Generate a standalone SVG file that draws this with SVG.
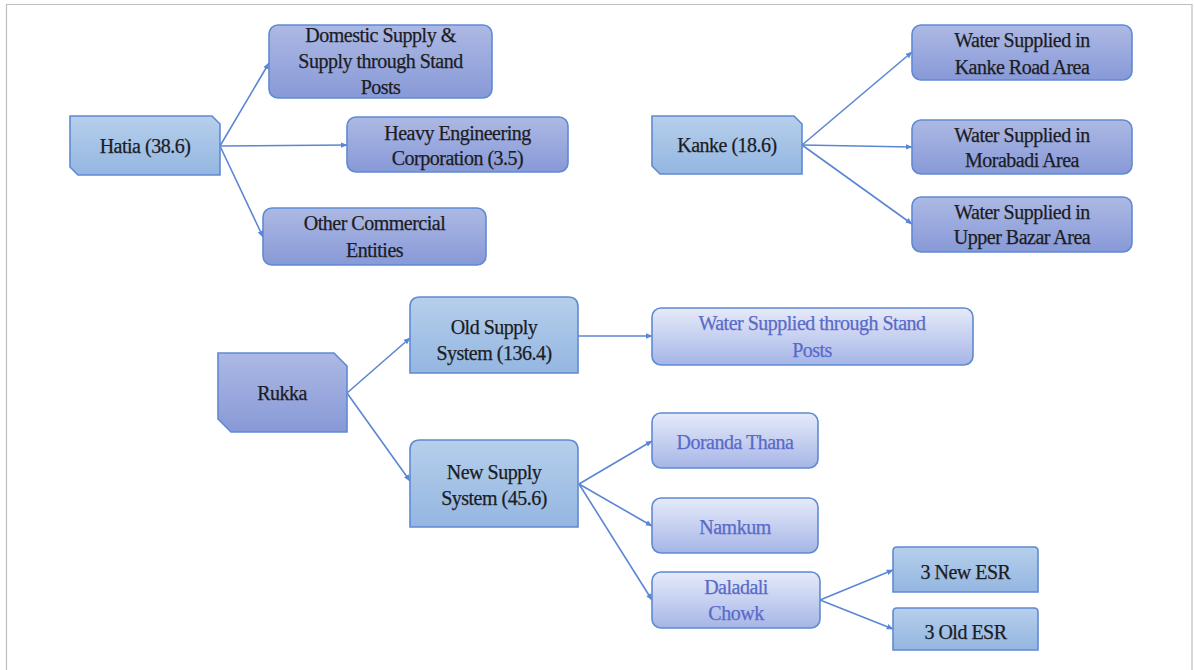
<svg xmlns="http://www.w3.org/2000/svg" width="1195" height="670" viewBox="0 0 1195 670" font-family="Liberation Serif, Tinos, DejaVu Serif, serif">
  <defs>
    <linearGradient id="gLav" x1="0" y1="0" x2="0" y2="1">
      <stop offset="0" stop-color="#adb9e4"/>
      <stop offset="1" stop-color="#8799d7"/>
    </linearGradient>
    <linearGradient id="gBlue" x1="0" y1="0" x2="0" y2="1">
      <stop offset="0" stop-color="#b6cfeb"/>
      <stop offset="1" stop-color="#94b6e1"/>
    </linearGradient>
    <linearGradient id="gPale" x1="0" y1="0" x2="0" y2="1">
      <stop offset="0" stop-color="#e6ebf9"/>
      <stop offset="1" stop-color="#a6b5e7"/>
    </linearGradient>
    <marker id="arrow" viewBox="0 0 10 10" refX="9" refY="5" markerWidth="7" markerHeight="7" markerUnits="userSpaceOnUse" orient="auto">
      <path d="M0,1 L10,5 L0,9 z" fill="#5b86d3"/>
    </marker>
    <style>
      .box { stroke: #5f8ad2; stroke-width: 1.6; }
      .lav { fill: url(#gLav); }
      .blue { fill: url(#gBlue); }
      .pale { fill: url(#gPale); }
      .t { font-size: 20px; fill: #1c1c24; text-anchor: middle; letter-spacing: -0.5px; stroke: #1c1c24; stroke-width: 0.25px; }
      .tb { fill: #5a6ac8; stroke: #5a6ac8; }
      .link { stroke: #5b86d3; stroke-width: 1.6; fill: none; marker-end: url(#arrow); }
    </style>
  </defs>

  <rect width="1195" height="670" fill="#ffffff"/>
  <!-- outer frame -->
  <path d="M6.5,670 V4.5 H1192 V670" fill="none" stroke="#bdbdbd" stroke-width="1.2"/>

  <!-- connectors -->
  <g id="connectors">
    <line class="link" x1="220" y1="146" x2="269" y2="63"/>
    <line class="link" x1="220" y1="146" x2="347" y2="145"/>
    <line class="link" x1="220" y1="146" x2="263" y2="237"/>
    <line class="link" x1="802" y1="145" x2="912" y2="52"/>
    <line class="link" x1="802" y1="145" x2="912" y2="147"/>
    <line class="link" x1="802" y1="145" x2="912" y2="224"/>
    <line class="link" x1="347" y1="393" x2="410" y2="338"/>
    <line class="link" x1="347" y1="393" x2="410" y2="481"/>
    <line class="link" x1="578" y1="336" x2="652" y2="336"/>
    <line class="link" x1="579" y1="484" x2="652" y2="441"/>
    <line class="link" x1="579" y1="484" x2="652" y2="526"/>
    <line class="link" x1="579" y1="484" x2="652" y2="600"/>
    <line class="link" x1="820" y1="600" x2="893" y2="570"/>
    <line class="link" x1="820" y1="600" x2="893" y2="629"/>
  </g>

  <!-- Hatia branch -->
  <g id="hatia">
    <path class="box blue" d="M70,116 H212 L220,124 V175 H78 L70,167 Z"/>
    <text class="t" x="145" y="153">Hatia (38.6)</text>
  </g>
  <g id="domestic">
    <rect class="box lav" x="269" y="25" width="223" height="73" rx="9"/>
    <text class="t" x="380.5" y="42">Domestic Supply &amp;</text>
    <text class="t" x="380.5" y="68">Supply through Stand</text>
    <text class="t" x="380.5" y="94">Posts</text>
  </g>
  <g id="heavy">
    <rect class="box lav" x="347" y="117" width="221" height="55" rx="9"/>
    <text class="t" x="457.5" y="140">Heavy Engineering</text>
    <text class="t" x="457.5" y="165">Corporation (3.5)</text>
  </g>
  <g id="other">
    <rect class="box lav" x="263" y="208" width="223" height="57" rx="9"/>
    <text class="t" x="374.5" y="230">Other Commercial</text>
    <text class="t" x="374.5" y="257">Entities</text>
  </g>

  <!-- Kanke branch -->
  <g id="kanke">
    <path class="box blue" d="M652,116 H794 L802,124 V174 H660 L652,166 Z"/>
    <text class="t" x="727" y="152">Kanke (18.6)</text>
  </g>
  <g id="kanke-road">
    <rect class="box lav" x="912" y="25" width="220" height="55" rx="9"/>
    <text class="t" x="1022" y="47">Water Supplied in</text>
    <text class="t" x="1022" y="74">Kanke Road Area</text>
  </g>
  <g id="morabadi">
    <rect class="box lav" x="912" y="120" width="220" height="54" rx="9"/>
    <text class="t" x="1022" y="142">Water Supplied in</text>
    <text class="t" x="1022" y="167">Morabadi Area</text>
  </g>
  <g id="upper-bazar">
    <rect class="box lav" x="912" y="197" width="220" height="55" rx="9"/>
    <text class="t" x="1022" y="219">Water Supplied in</text>
    <text class="t" x="1022" y="244">Upper Bazar Area</text>
  </g>

  <!-- Rukka branch -->
  <g id="rukka">
    <path class="box lav" d="M218,353 H334 L347,366 V432 H231 L218,419 Z"/>
    <text class="t" x="282" y="400">Rukka</text>
  </g>
  <g id="old-supply">
    <path class="box blue" d="M410,373 V307 Q410,297 420,297 H568 Q578,297 578,307 V373 Z"/>
    <text class="t" x="494" y="334">Old Supply</text>
    <text class="t" x="494" y="360">System (136.4)</text>
  </g>
  <g id="stand-posts">
    <rect class="box pale" x="652" y="308" width="321" height="57" rx="9"/>
    <text class="t tb" x="812" y="330">Water Supplied through Stand</text>
    <text class="t tb" x="812" y="357">Posts</text>
  </g>
  <g id="new-supply">
    <path class="box blue" d="M410,527 V450 Q410,440 420,440 H568 Q578,440 578,450 V527 Z"/>
    <text class="t" x="494" y="479">New Supply</text>
    <text class="t" x="494" y="505">System (45.6)</text>
  </g>
  <g id="doranda">
    <rect class="box pale" x="652" y="413" width="166" height="55" rx="9"/>
    <text class="t tb" x="735" y="449">Doranda Thana</text>
  </g>
  <g id="namkum">
    <rect class="box pale" x="652" y="498" width="166" height="55" rx="9"/>
    <text class="t tb" x="735" y="534">Namkum</text>
  </g>
  <g id="daladali">
    <rect class="box pale" x="652" y="572" width="168" height="56" rx="9"/>
    <text class="t tb" x="736" y="594">Daladali</text>
    <text class="t tb" x="736" y="620">Chowk</text>
  </g>
  <g id="new-esr">
    <path class="box blue" d="M893,592 V551 Q893,547 897,547 H1034 Q1038,547 1038,551 V592 Z"/>
    <text class="t" x="965.5" y="579">3 New ESR</text>
  </g>
  <g id="old-esr">
    <path class="box blue" d="M893,650 V612 Q893,608 897,608 H1034 Q1038,608 1038,612 V650 Z"/>
    <text class="t" x="965.5" y="639">3 Old ESR</text>
  </g>
</svg>
